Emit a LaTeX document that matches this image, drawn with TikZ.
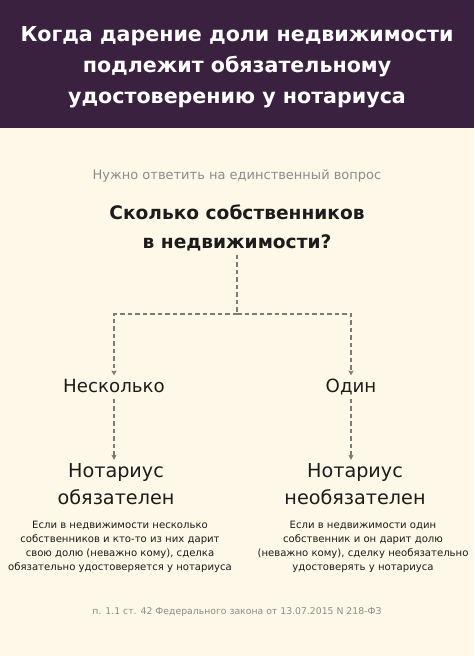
\documentclass[tikz,border=0pt]{standalone}
\usepackage{fontspec}
\setmainfont{DejaVu Sans}
\usetikzlibrary{arrows.meta, positioning}
\definecolor{headbg}{HTML}{3A2140}
\definecolor{pagebg}{HTML}{FDF8E7}
\definecolor{dashgray}{HTML}{7E7A76}
\definecolor{softgray}{HTML}{8C8C8C}
\definecolor{inkblack}{HTML}{1C1C1C}

\begin{document}
\begin{tikzpicture}[x=1pt,y=-1pt,
  dashline/.style={line width=1.2pt,color=dashgray,dash pattern=on 4.5pt off 3pt},
  dasharrow/.style={dashline,-{Stealth[length=5pt,width=5pt,inset=1pt]}},
  choice/.style={font=\fontsize{18.2}{19}\selectfont,color=inkblack,text height=13pt,text depth=3pt},
  verdict/.style={font=\fontsize{19.2}{27}\selectfont,color=inkblack,align=center},
  descr/.style={font=\fontsize{10.1}{14}\selectfont,color=inkblack,align=center}]
%background
\fill[pagebg] (0,0) rectangle (474,656);
\fill[headbg] (0,0) rectangle (474,128);
\useasboundingbox (0,0) rectangle (474,656);
%title
\node[font=\fontsize{20.6}{31}\selectfont\bfseries,color=white,align=center] (title) at (237,67.5)
  {Когда дарение доли недвижимости\\подлежит обязательному\\удостоверению у нотариуса};
%question
\node[font=\fontsize{13}{15}\selectfont,color=softgray] (hint) at (237,176) {Нужно ответить на единственный вопрос};
\node[font=\fontsize{18.6}{29}\selectfont\bfseries,color=inkblack,align=center] (question) at (237,228)
  {Сколько собственников\\в недвижимости?};
%answers
\node[choice] (many) at (114,387) {Несколько};
\node[choice] (one) at (351,387) {Один};
\coordinate (fork) at (237,314);
%results
\node[verdict] (mustnot) at (116,484) {Нотариус\\обязателен};
\node[verdict] (optional) at (355,484) {Нотариус\\необязателен};
\node[descr] (manytext) at (120,547)
  {Если в недвижимости несколько\\собственников и кто-то из них дарит\\свою долю (неважно кому), сделка\\обязательно удостоверяется у нотариуса};
\node[descr] (onetext) at (363,547)
  {Если в недвижимости один\\собственник и он дарит долю\\(неважно кому), сделку необязательно\\удостоверять у нотариуса};
%source
\node[font=\fontsize{9.3}{12}\selectfont,color=softgray] (law) at (237,612) {п. 1.1 ст. 42 Федерального закона от 13.07.2015 N 218-ФЗ};
%connectors
\draw[dashline] (question.south) -- (fork);
\draw[dasharrow] (fork) -| (many.north);
\draw[dasharrow] (fork) -| (one.north);
\draw[dasharrow] (many.south) -- (many.south |- mustnot.north);
\draw[dasharrow] (one.south) -- (one.south |- optional.north);
\end{tikzpicture}
\end{document}
